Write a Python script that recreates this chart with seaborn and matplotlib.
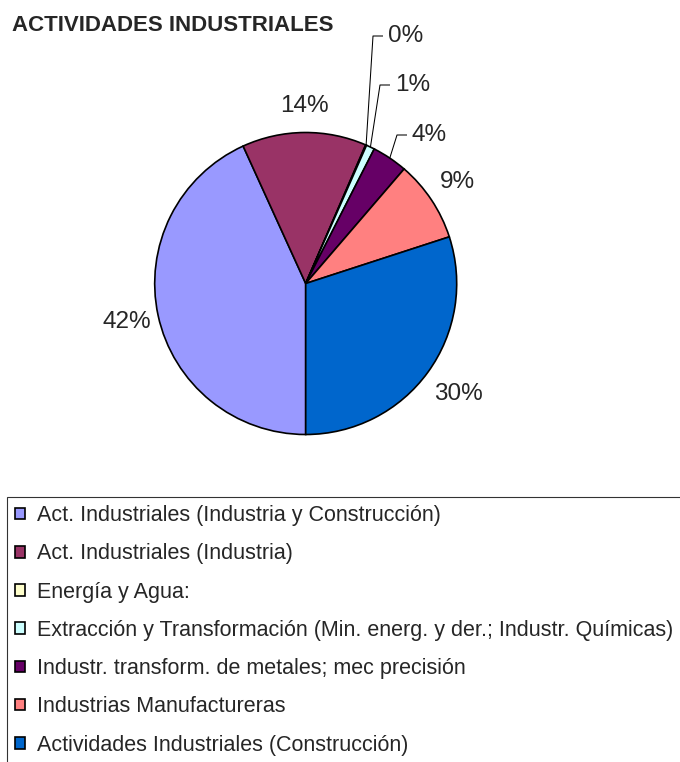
import matplotlib
matplotlib.use("Agg")
import matplotlib.pyplot as plt
import seaborn as sns
import numpy as np

# Datos del gráfico
categorias = [
    "Act. Industriales (Industria y Construcción)",
    "Act. Industriales (Industria)",
    "Energía y Agua:",
    "Extracción y Transformación (Min. energ. y der.; Industr. Químicas)",
    "Industr. transform. de metales; mec precisión",
    "Industrias Manufactureras",
    "Actividades Industriales (Construcción)",
]
valores = [43.2, 13.3, 0.1, 0.9, 3.8, 8.7, 30.0]
etiquetas = ["42%", "14%", "0%", "1%", "4%", "9%", "30%"]
colores = ["#9999FF", "#993366", "#FFFFCC", "#CCFFFF", "#660066", "#FF8080", "#0066CC"]

sns.set_theme(style="white")
plt.rcParams["font.family"] = ["Liberation Sans", "DejaVu Sans"]

W, H = 680, 762
cx, cy, R = 305.7, 283.5, 151.0  # centro y radio del pie en píxeles


def px(x, y):
    # píxeles de la imagen -> coordenadas de datos (radio = 1)
    return (x - cx) / R, (cy - y) / R


fig = plt.figure(figsize=(W / 100, H / 100), dpi=100)
ax = fig.add_axes([0, 0, 1, 1])

paleta = sns.color_palette(colores)
cunhas, _ = ax.pie(valores, colors=paleta, startangle=270, counterclock=False,
                   radius=1, center=(0, 0),
                   wedgeprops=dict(edgecolor="black", linewidth=1.2))

ax.set_xlim(-cx / R, (W - cx) / R)
ax.set_ylim(-(H - cy) / R, cy / R)
ax.set_aspect("auto")
ax.axis("off")

# Etiquetas de porcentaje
dist = [1.21, 1.175, None, None, None, 1.21, 1.25]
con_linea = {2: px(388, 36), 3: px(395, 85), 4: px(412, 135)}

for i, w in enumerate(cunhas):
    mid = np.deg2rad((w.theta1 + w.theta2) / 2)
    if i in con_linea:
        tx, ty = con_linea[i]
        ex, ey = np.cos(mid), np.sin(mid)
        ax.plot([ex, tx - 15 / R, tx - 5 / R], [ey, ty, ty],
                color="black", lw=0.75, solid_capstyle="butt")
        ax.text(tx, ty, etiquetas[i], ha="left", va="center", fontsize=17.5)
    else:
        r = dist[i]
        ax.text(r * np.cos(mid), r * np.sin(mid), etiquetas[i],
                ha="center", va="center", fontsize=17.5)

# Título
fig.text(12 / W, 1 - 31 / H, "ACTIVIDADES INDUSTRIALES", fontsize=16,
         fontweight="bold", ha="left", va="baseline")

# Leyenda (el marco sigue más allá del borde derecho e inferior)
leg = fig.legend(cunhas, categorias, loc="upper left", mode="expand",
                 bbox_to_anchor=(7 / W, 0, 1, 1 - 497 / H), borderaxespad=0,
                 fontsize=15.5, frameon=True, fancybox=False,
                 handlelength=0.46, handleheight=0.46, handletextpad=0.55,
                 borderpad=0.38, labelspacing=0.8)
leg.get_frame().set_edgecolor("black")
leg.get_frame().set_linewidth(0.8)

plt.savefig("out.png", dpi=100)
